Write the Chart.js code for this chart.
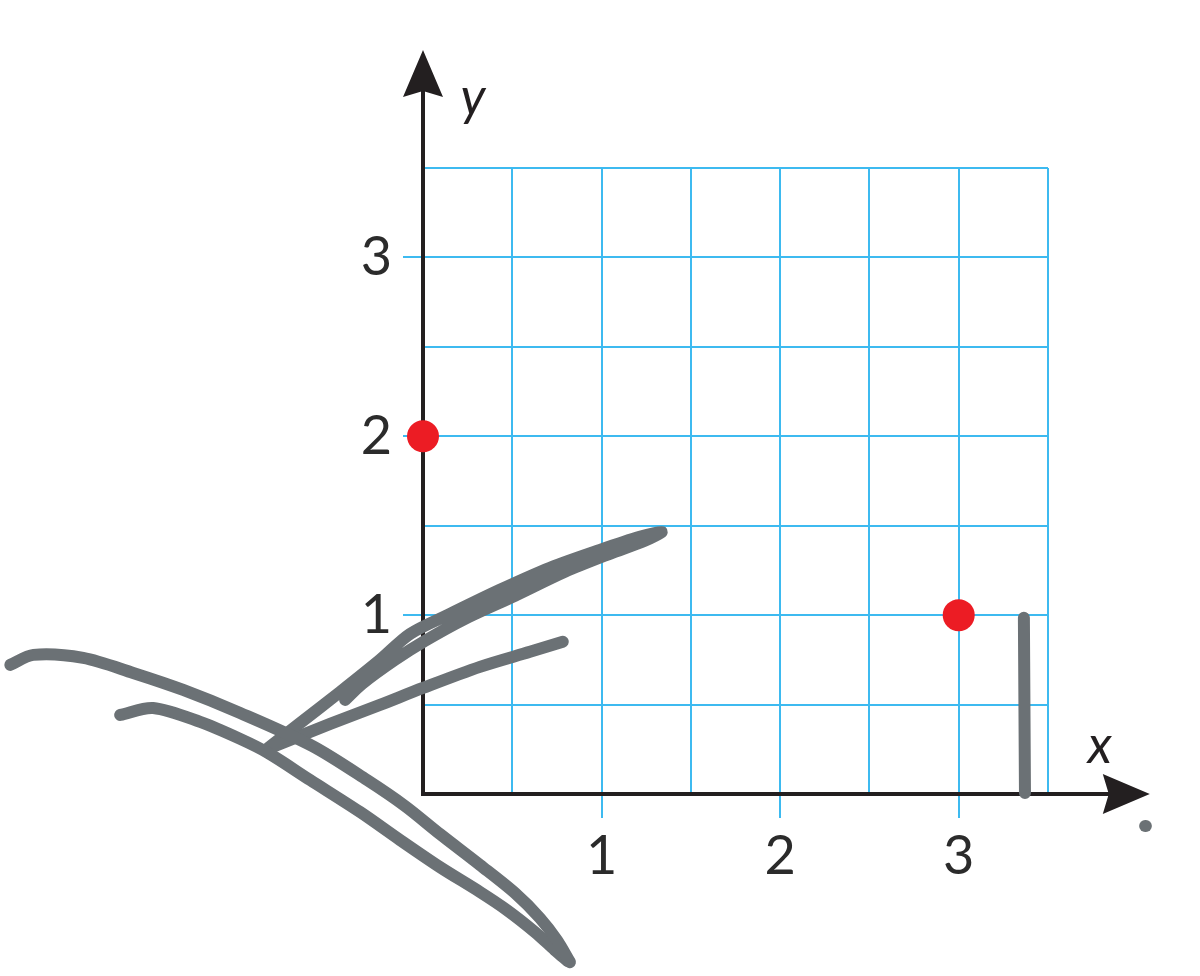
<!DOCTYPE html>
<html><head><meta charset="utf-8">
<script src="https://cdn.jsdelivr.net/npm/chart.js@4/dist/chart.umd.min.js"></script>
<style>html,body{margin:0;padding:0;background:#fff;}canvas{display:block}</style>
</head><body>
<canvas id="c" width="1200" height="976"></canvas>
<script>
// ---- data ----
const tickLabelsX = [1, 2, 3];
const tickLabelsY = [1, 2, 3];
const gridMax = 3.5;
const gridStep = 0.5;
const axisEndX = 4.07;
const axisEndY = 4.16;

const pointsX = [0, 3];
const pointsY = [2, 1];

const strokeA_x = [-2.311, -2.182, -1.903, -1.623, -1.343, -1.024, -0.621, -0.313, -0.101, 0.095, 0.319, 0.515, 0.655, 0.750, 0.823];
const strokeA_y = [0.722, 0.778, 0.761, 0.677, 0.582, 0.453, 0.269, 0.078, -0.067, -0.224, -0.397, -0.554, -0.694, -0.817, -0.940];

const strokeB_x = [-1.696, -1.511, -1.248, -1.024, -0.867, -0.632, -0.352, -0.129, 0.095, 0.319, 0.470, 0.627, 0.739, 0.811];
const strokeB_y = [0.442, 0.481, 0.403, 0.308, 0.229, 0.078, -0.101, -0.257, -0.409, -0.548, -0.649, -0.772, -0.873, -0.935];

const strokeC_x = [-0.867, -0.688, -0.464, -0.241, -0.073, 0.151, 0.431, 0.711, 0.991, 1.214, 1.337, 1.242, 1.046, 0.795, 0.515, 0.235, 0.011, -0.157, -0.341, -0.436];
const strokeC_y = [0.257, 0.397, 0.571, 0.750, 0.895, 1.007, 1.142, 1.265, 1.365, 1.438, 1.466, 1.416, 1.343, 1.242, 1.108, 0.979, 0.856, 0.750, 0.616, 0.526];

const strokeD_x = [-0.828, -0.520, -0.241, 0.000, 0.319, 0.599, 0.783];
const strokeD_y = [0.269, 0.392, 0.498, 0.593, 0.711, 0.795, 0.851];

const strokeE_x = [3.365, 3.368, 3.371];
const strokeE_y = [0.985, 0.500, 0.006];

const dotX = [4.044, 4.048];
const dotY = [-0.179, -0.179];

// ---- styles ----
const gridColor = '#3dbaf0';
const axisColor = '#231f20';
const labelColor = '#2b2b2b';
const redColor = '#ec1c24';
const penColor = '#6b7175';

const toXY = (xs, ys) => xs.map((v, i) => ({x: v, y: ys[i]}));

function strokeDS(xs, ys, w) {
  return {
    type: 'scatter', data: toXY(xs, ys), showLine: true,
    borderColor: penColor, borderWidth: w || 12, tension: 0.3,
    borderCapStyle: 'round', borderJoinStyle: 'round',
    pointRadius: 0, clip: false, order: 0
  };
}

const axesPlugin = {
  id: 'axesArrows',
  beforeDatasetsDraw(chart) {
    const {ctx, scales: {x, y}} = chart;
    const x0 = x.getPixelForValue(0), y0 = y.getPixelForValue(0);
    const xe = x.getPixelForValue(axisEndX), ye = y.getPixelForValue(axisEndY);
    ctx.save();
    ctx.strokeStyle = axisColor; ctx.fillStyle = axisColor; ctx.lineWidth = 4;
    ctx.beginPath(); ctx.moveTo(x0, y0 + 2); ctx.lineTo(x0, ye + 40); ctx.stroke();
    ctx.beginPath(); ctx.moveTo(x0 - 2, y0); ctx.lineTo(xe - 40, y0); ctx.stroke();
    ctx.beginPath();
    ctx.moveTo(x0, ye); ctx.lineTo(x0 - 20, ye + 47); ctx.lineTo(x0, ye + 41); ctx.lineTo(x0 + 20, ye + 47);
    ctx.closePath(); ctx.fill();
    ctx.beginPath();
    ctx.moveTo(xe, y0); ctx.lineTo(xe - 47, y0 - 20); ctx.lineTo(xe - 41, y0); ctx.lineTo(xe - 47, y0 + 20);
    ctx.closePath(); ctx.fill();
    ctx.font = 'italic 400 52px Lato, "Open Sans", sans-serif';
    ctx.textAlign = 'center'; ctx.textBaseline = 'middle';
    ctx.fillText('y', x0 + 50, ye + 48);
    ctx.fillText('x', xe - 50, y0 - 48);
    ctx.restore();
  }
};

const tickCol = (list) => (c) => (c.tick && list.includes(c.tick.value)) ? gridColor : 'rgba(0,0,0,0)';
const fixRange = s => { s.min = 0; s.max = gridMax; };

new Chart(document.getElementById('c'), {
  type: 'scatter',
  data: {
    datasets: [
      strokeDS(strokeA_x, strokeA_y),
      strokeDS(strokeB_x, strokeB_y),
      strokeDS(strokeC_x, strokeC_y),
      strokeDS(strokeD_x, strokeD_y),
      strokeDS(strokeE_x, strokeE_y),
      strokeDS(dotX, dotY, 12),
      {type: 'scatter', data: toXY(pointsX, pointsY), pointRadius: 16, pointBackgroundColor: redColor, pointBorderWidth: 0, clip: false, order: 1}
    ]
  },
  options: {
    responsive: false, animation: false, devicePixelRatio: 1,
    layout: {padding: {left: 0, right: 152, top: 168, bottom: 0}},
    elements: {line: {capBezierPoints: false}},
    plugins: {legend: {display: false}, tooltip: {enabled: false}},
    scales: {
      x: {
        type: 'linear',
        afterDataLimits: fixRange,
        afterFit: s => { s.height = 182; },
        ticks: {stepSize: gridStep, autoSkip: false, maxRotation: 0, padding: 6,
          color: labelColor, font: {family: 'Lato, "Open Sans", sans-serif', size: 54, weight: 400},
          callback: v => tickLabelsX.includes(v) ? String(v) : ''},
        grid: {color: gridColor, lineWidth: 2, tickLength: 24, tickColor: tickCol(tickLabelsX), tickWidth: 2},
        border: {display: false}
      },
      y: {
        type: 'linear',
        afterDataLimits: fixRange,
        afterFit: s => { s.width = 423; },
        ticks: {stepSize: gridStep, autoSkip: false, padding: 11,
          color: labelColor, font: {family: 'Lato, "Open Sans", sans-serif', size: 54, weight: 400},
          callback: v => tickLabelsY.includes(v) ? String(v) : ''},
        grid: {color: gridColor, lineWidth: 2, tickLength: 20, tickColor: tickCol(tickLabelsY), tickWidth: 2},
        border: {display: false}
      }
    }
  },
  plugins: [axesPlugin]
});
</script>
</body></html>
